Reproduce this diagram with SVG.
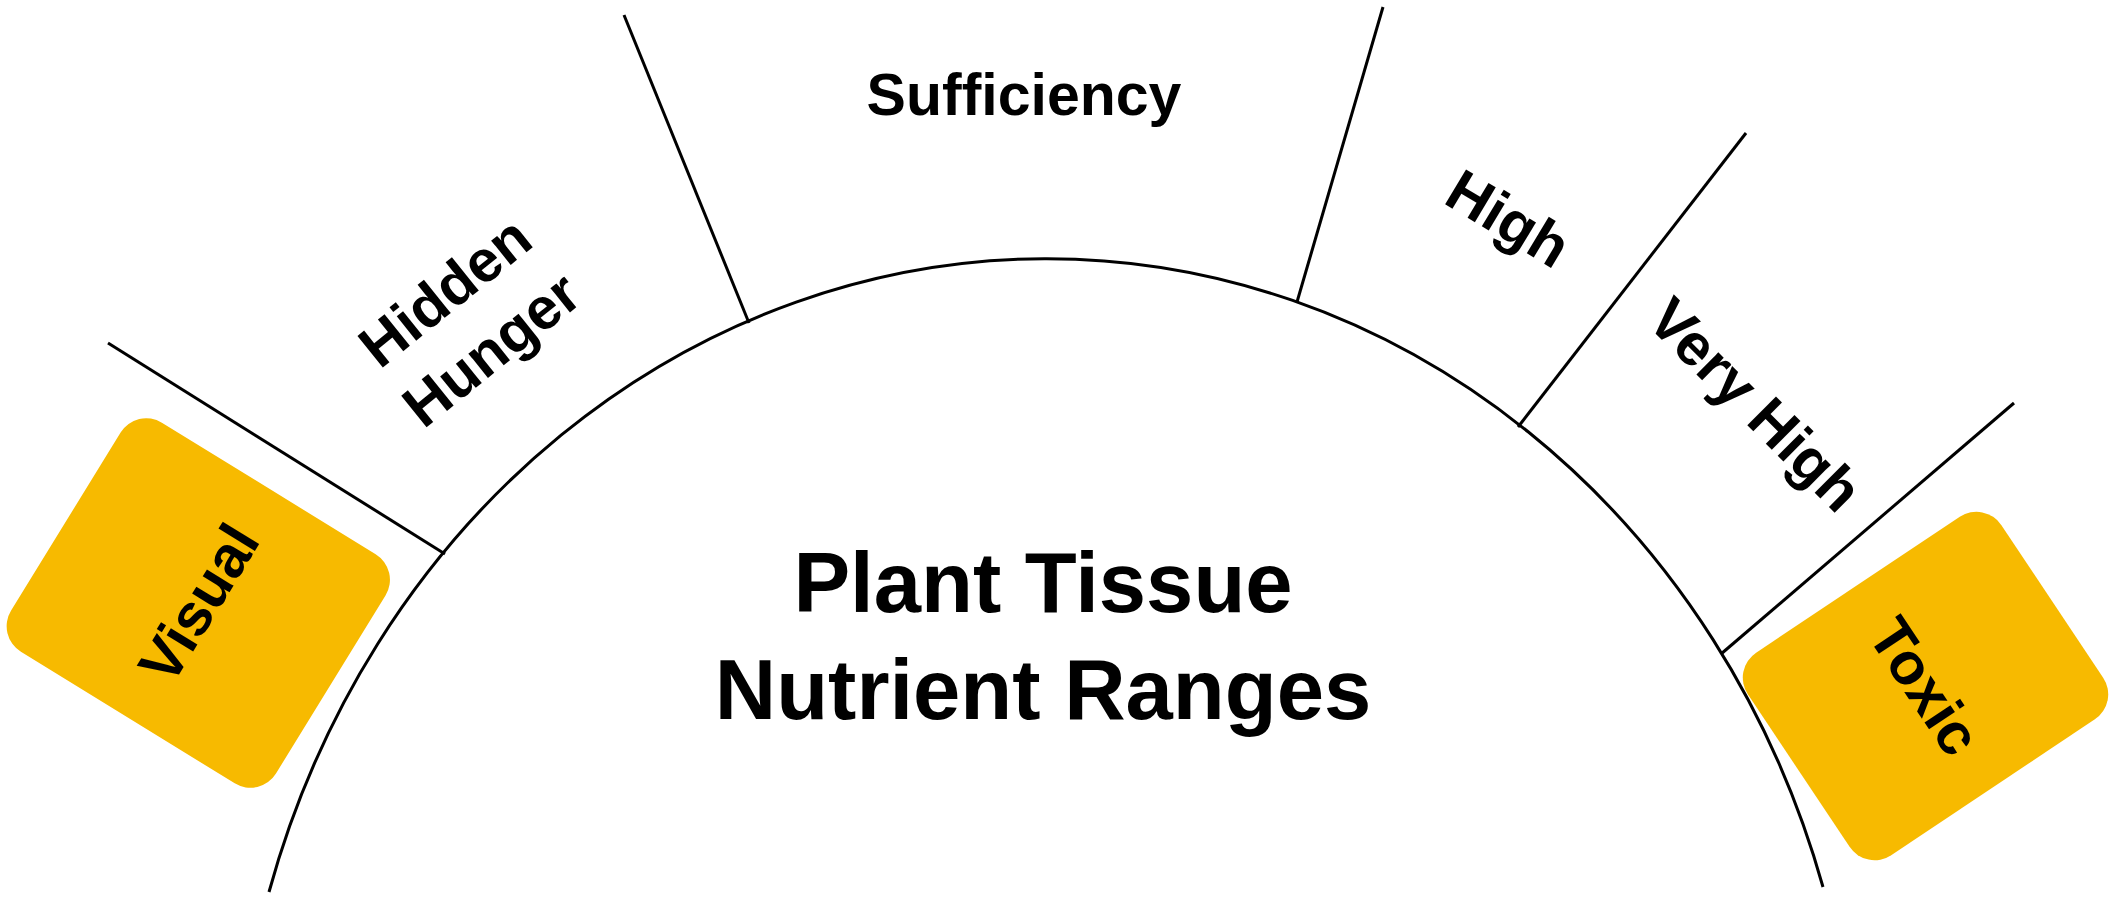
<svg xmlns="http://www.w3.org/2000/svg" width="2112" height="899" viewBox="0 0 2112 899">
  <style>
    .bg { fill: #ffffff; }
    .ln { stroke: #000000; stroke-width: 3; fill: none; stroke-linecap: butt; }
    .box { fill: #F7BA00; }
    .lbl { font-family: "Liberation Sans", Arial, Helvetica, sans-serif; font-weight: bold; font-size: 59px; fill: #000000; text-anchor: middle; }
    .title { font-family: "Liberation Sans", Arial, Helvetica, sans-serif; font-weight: bold; font-size: 85px; fill: #000000; text-anchor: middle; }
  </style>
  <rect class="bg" x="0" y="0" width="2112" height="899"/>

  <g id="connectors">
    <path class="ln" d="M 269 892 A 812 889 0 0 1 1823 887"/>
    <line class="ln" x1="108" y1="343" x2="445" y2="554"/>
    <line class="ln" x1="624" y1="15" x2="749" y2="323"/>
    <line class="ln" x1="1383" y1="7" x2="1297" y2="302"/>
    <line class="ln" x1="1746" y1="133" x2="1518" y2="427"/>
    <line class="ln" x1="2014" y1="403" x2="1721" y2="654"/>
  </g>

  <g id="node-visual" transform="translate(198.3,603) rotate(-58.4)">
    <rect class="box" x="-134.5" y="-155.5" width="269" height="311" rx="30" ry="30"/>
    <text class="lbl" x="0" y="21">Visual</text>
  </g>

  <g id="node-hidden-hunger" transform="translate(457.7,307.4) rotate(-38.7)">
    <text class="lbl" x="0" y="0">Hidden</text>
    <text class="lbl" x="0" y="74">Hunger</text>
  </g>

  <g id="node-sufficiency">
    <text class="lbl" x="1024" y="115">Sufficiency</text>
  </g>

  <g id="node-high" transform="translate(1498,236) rotate(31)">
    <text class="lbl" x="0" y="0">High</text>
  </g>

  <g id="node-very-high" transform="translate(1741,419) rotate(45)">
    <text class="lbl" x="0" y="0">Very High</text>
  </g>

  <g id="node-toxic" transform="translate(1925.5,686) rotate(56.3)">
    <rect class="box" x="-121.7" y="-152.4" width="243.4" height="304.8" rx="30" ry="30"/>
    <text class="lbl" x="0" y="21">Toxic</text>
  </g>

  <g id="node-title">
    <text class="title" x="1043" y="612">Plant Tissue</text>
    <text class="title" x="1043" y="719">Nutrient Ranges</text>
  </g>
</svg>
